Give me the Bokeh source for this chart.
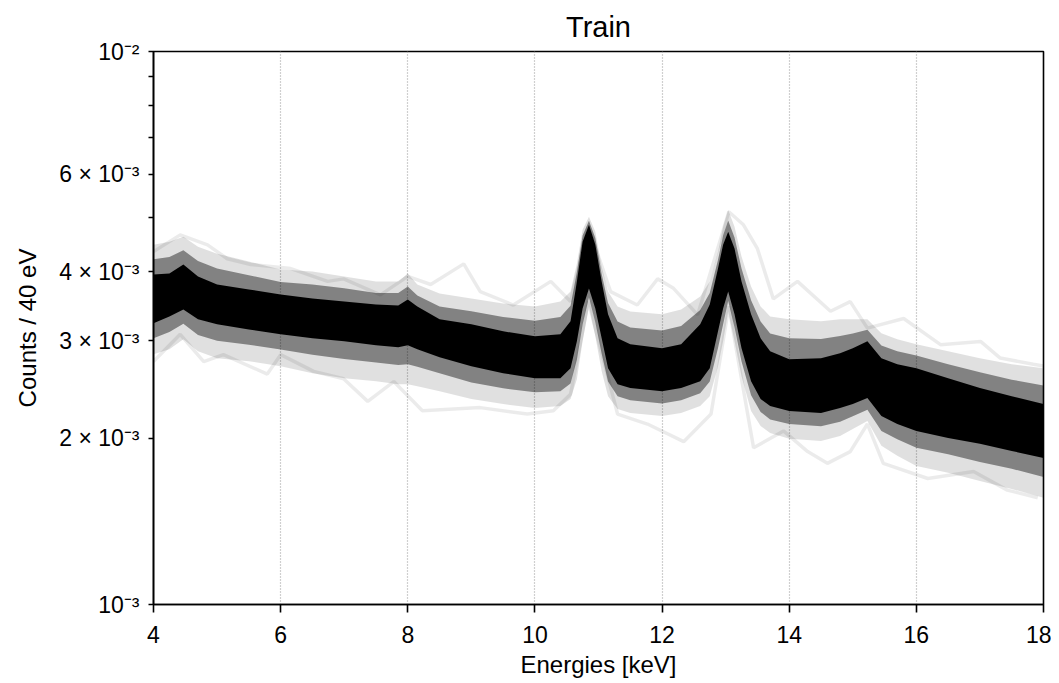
from bokeh.plotting import figure
from bokeh.models import Range1d, FixedTicker, CustomJSTickFormatter
from bokeh.embed import file_html
from bokeh.resources import INLINE

# ---------------- data (counts per 40 eV, in units of 1e-3) ----------------
UNIT = 1e-3

energy = [4.0, 4.25, 4.47, 4.7, 5.0, 5.5, 6.0, 6.5, 7.0, 7.5, 7.85, 8.0, 8.15, 8.5, 9.0,
          9.5, 10.0, 10.4, 10.56, 10.66, 10.75, 10.85, 10.95, 11.05, 11.15, 11.3, 11.5,
          12.0, 12.3, 12.6, 12.75, 12.88, 12.96, 13.04, 13.14, 13.25, 13.4, 13.55, 13.7,
          14.0, 14.5, 14.8, 15.0, 15.23, 15.45, 15.7, 16.0, 16.5, 17.0, 17.5, 18.0]

# dense core of the spectra
core_hi = [3.951, 3.967, 4.118, 3.918, 3.790, 3.712, 3.636, 3.576, 3.532, 3.488, 3.474,
           3.561, 3.460, 3.278, 3.211, 3.119, 3.055, 3.080, 3.251, 3.837, 4.530, 4.861,
           4.474, 3.837, 3.347, 3.030, 2.955, 2.907, 2.955, 3.211, 3.488, 4.050, 4.474,
           4.722, 4.401, 3.837, 3.347, 3.030, 2.870, 2.777, 2.788, 2.847, 2.907, 2.992,
           2.788, 2.720, 2.675, 2.566, 2.462, 2.381, 2.304]
core_lo = [3.224, 3.319, 3.417, 3.278, 3.211, 3.144, 3.080, 3.030, 2.992, 2.943, 2.919,
           2.943, 2.895, 2.800, 2.697, 2.620, 2.566, 2.566, 2.675, 2.992, 3.431, 3.728,
           3.431, 3.030, 2.675, 2.503, 2.462, 2.431, 2.462, 2.534, 2.675, 3.119, 3.431,
           3.682, 3.347, 2.907, 2.534, 2.352, 2.285, 2.238, 2.219, 2.266, 2.304, 2.362,
           2.192, 2.121, 2.060, 2.001, 1.952, 1.895, 1.841]

# intermediate density
mid_hi = [4.21, 4.25, 4.37, 4.18, 4.05, 3.94, 3.83, 3.79, 3.73, 3.66, 3.66, 3.76, 3.62,
          3.46, 3.39, 3.31, 3.26, 3.31, 3.47, 3.99, 4.65, 4.94, 4.60, 3.96, 3.51, 3.25,
          3.17, 3.13, 3.19, 3.41, 3.66, 4.20, 4.65, 4.95, 4.61, 4.05, 3.55, 3.25, 3.09,
          3.03, 3.02, 3.06, 3.09, 3.14, 2.94, 2.87, 2.82, 2.72, 2.63, 2.55, 2.49]
mid_lo = [3.03, 3.11, 3.22, 3.07, 3.00, 2.95, 2.89, 2.83, 2.78, 2.74, 2.71, 2.72, 2.69,
          2.62, 2.52, 2.46, 2.42, 2.43, 2.51, 2.77, 3.21, 3.59, 3.24, 2.84, 2.53, 2.38,
          2.34, 2.31, 2.34, 2.41, 2.53, 2.91, 3.21, 3.54, 3.17, 2.75, 2.39, 2.23, 2.16,
          2.12, 2.10, 2.14, 2.19, 2.25, 2.06, 1.99, 1.92, 1.87, 1.81, 1.76, 1.70]

# faint outer envelope
halo_hi = [4.474, 4.530, 4.625, 4.437, 4.310, 4.170, 4.033, 4.000, 3.918, 3.837, 3.837,
           3.967, 3.790, 3.651, 3.576, 3.503, 3.460, 3.532, 3.682, 4.135, 4.761, 5.024,
           4.722, 4.084, 3.682, 3.460, 3.388, 3.347, 3.417, 3.606, 3.837, 4.346, 4.820,
           5.173, 4.820, 4.257, 3.759, 3.460, 3.319, 3.278, 3.251, 3.278, 3.278, 3.278,
           3.093, 3.017, 2.955, 2.870, 2.788, 2.720, 2.675]
halo_lo = [2.835, 2.895, 3.017, 2.870, 2.788, 2.754, 2.697, 2.620, 2.566, 2.534, 2.503,
           2.503, 2.482, 2.431, 2.352, 2.304, 2.266, 2.285, 2.352, 2.555, 2.992, 3.460,
           3.055, 2.642, 2.381, 2.256, 2.219, 2.192, 2.219, 2.285, 2.381, 2.697, 2.992,
           3.388, 2.992, 2.587, 2.238, 2.103, 2.043, 1.993, 1.976, 2.018, 2.077, 2.147,
           1.936, 1.857, 1.781, 1.730, 1.673, 1.618, 1.560]

# two faint outlier spectra
out_hi_e = [4.00, 4.42, 4.85, 5.16, 5.53, 6.16, 6.74, 6.99, 7.57, 8.00, 8.36, 8.88, 9.14,
            9.66, 10.25, 10.56, 10.84, 11.19, 11.61, 11.93, 12.18, 12.56, 13.05, 13.28,
            13.50, 13.75, 14.13, 14.65, 14.96, 15.23, 15.80, 16.38, 17.01, 17.32, 17.84, 18.0]
out_hi_v = [4.346, 4.66, 4.47, 4.22, 4.12, 4.05, 3.84, 3.88, 3.63, 3.92, 3.79, 4.13, 3.68,
            3.48, 3.84, 3.53, 4.82, 3.68, 3.48, 3.88, 3.73, 3.34, 5.13, 4.86, 4.40, 3.57,
            3.84, 3.39, 3.53, 3.16, 3.29, 2.95, 2.99, 2.79, 2.72, 2.70]
out_lo_e = [4.00, 4.42, 4.79, 5.10, 5.79, 6.00, 6.52, 6.99, 7.37, 7.78, 8.23, 9.14, 9.88,
            10.29, 10.56, 10.84, 11.30, 11.77, 12.34, 12.77, 13.05, 13.44, 13.91, 14.29,
            14.60, 14.96, 15.23, 15.48, 16.18, 16.90, 17.43, 17.91]
out_lo_v = [2.75, 3.08, 2.75, 2.83, 2.61, 2.83, 2.64, 2.56, 2.33, 2.53, 2.24, 2.27, 2.21,
            2.24, 2.40, 3.53, 2.21, 2.12, 1.97, 2.21, 3.46, 1.92, 2.06, 1.89, 1.80, 1.89,
            2.12, 1.80, 1.69, 1.74, 1.61, 1.56]

x_ticks = [4, 6, 8, 10, 12, 14, 16, 18]
y_tick_values = [0.001, 0.002, 0.003, 0.004, 0.006, 0.01]
y_tick_labels = ["10\u207b\u00b3", "2 \u00d7 10\u207b\u00b3", "3 \u00d7 10\u207b\u00b3",
                 "4 \u00d7 10\u207b\u00b3", "6 \u00d7 10\u207b\u00b3", "10\u207b\u00b2"]
y_minor_values = [0.005, 0.007, 0.008, 0.009]


def scaled(vals):
    return [v * UNIT for v in vals]


FONT = "Liberation Sans"

p = figure(width=1051, height=680, x_range=Range1d(4, 18), y_range=Range1d(1e-3, 1e-2),
           y_axis_type="log", output_backend="svg", toolbar_location=None,
           min_border_left=153, min_border_right=8, min_border_top=49, min_border_bottom=76,
           title="Train")

p.background_fill_color = "white"
p.border_fill_color = "white"
p.outline_line_color = "black"
p.outline_line_width = 1.6

p.title.align = "center"
p.title.text_font = FONT
p.title.text_font_size = "29px"
p.title.text_font_style = "normal"
p.title.text_color = "black"
p.title.standoff = 17

# outliers
p.line(out_hi_e, scaled(out_hi_v), line_color="black", line_alpha=0.08, line_width=3.5)
p.line(out_lo_e, scaled(out_lo_v), line_color="black", line_alpha=0.08, line_width=3.5)

# density layers
p.varea(x=energy, y1=scaled(halo_lo), y2=scaled(halo_hi), fill_color="black", fill_alpha=0.12)
p.varea(x=energy, y1=scaled(mid_lo), y2=scaled(mid_hi), fill_color="black", fill_alpha=0.42)
p.varea(x=energy, y1=scaled(core_lo), y2=scaled(core_hi), fill_color="black", fill_alpha=1.0)

# grid
p.ygrid.grid_line_color = None
p.xgrid.grid_line_color = "#a0a0a0"
p.xgrid.grid_line_dash = "1 2"
p.xgrid.grid_line_width = 1.2

# axes
xa = p.xaxis[0]
ya = p.yaxis[0]
xa.ticker = FixedTicker(ticks=x_ticks, minor_ticks=[])
ya.ticker = FixedTicker(ticks=y_tick_values, minor_ticks=y_minor_values)
ya.formatter = CustomJSTickFormatter(
    args=dict(vals=y_tick_values, labs=y_tick_labels),
    code="""
    for (let i = 0; i < vals.length; i++) {
        if (Math.abs(tick - vals[i]) < 1e-9) { return labs[i]; }
    }
    return "";
    """)

for ax in (xa, ya):
    ax.axis_line_width = 1.6
    ax.axis_line_color = "black"
    ax.major_tick_line_width = 1.6
    ax.major_tick_line_color = "black"
    ax.major_tick_in = 0
    ax.minor_tick_in = 0
    ax.major_label_text_font = FONT
    ax.major_label_text_font_size = "23px"
    ax.major_label_text_color = "black"
    ax.axis_label_text_font = FONT
    ax.axis_label_text_font_size = "24px"
    ax.axis_label_text_font_style = "normal"
    ax.axis_label_text_color = "black"

xa.axis_label = "Energies [keV]"
xa.major_tick_out = 8
xa.major_label_standoff = 13
xa.axis_label_standoff = 5
xa.minor_tick_line_color = None

ya.axis_label = "Counts / 40 eV"
ya.major_tick_out = 5
ya.minor_tick_out = 5
ya.minor_tick_line_width = 1.6
ya.minor_tick_line_color = "black"
ya.major_label_standoff = 9
ya.axis_label_standoff = 15

open("out.html", "w").write(file_html(p, INLINE))
